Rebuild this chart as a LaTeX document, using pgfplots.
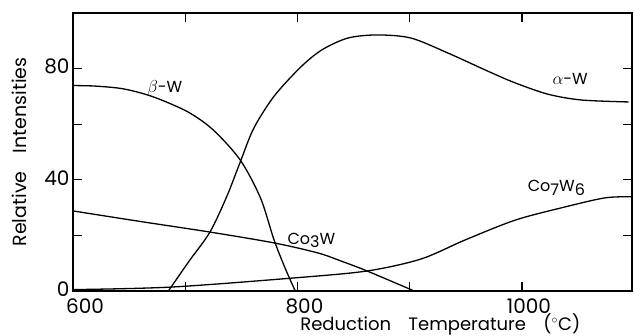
\documentclass[border=0pt]{standalone}
\usepackage{fontspec}
\setmainfont{Poppins}
\usepackage{pgfplots}
\pgfplotsset{compat=1.18}
\begin{document}
\begin{tikzpicture}
\begin{axis}[
  scale only axis,
  width=559pt, height=278pt,
  xmin=600, xmax=1098, ymin=0, ymax=100,
  axis line style={line width=1.4pt},
  tick style={line width=1.2pt, black},
  major tick length=9pt,
  tick align=inside,
  xtick={600,700,800,900,1000},
  xticklabels={\hspace*{10pt}600,,800,,1000},
  ytick={0,20,40,60,80},
  yticklabels={0,,40,,80},
  /pgf/number format/assume math mode=true,
  tick label style={font=\fontsize{20}{20}\selectfont},
  xticklabel style={xshift=7pt, yshift=-4pt},
  yticklabel style={xshift=0pt, yshift=2pt},
  xlabel={Reduction\hspace{0.7em} Temperature\hspace{0.7em} ($^{\circ}$C)},
  xlabel style={font=\fontsize{18}{18}\selectfont, inner sep=0pt, at={(axis description cs:0.657,0)}, anchor=north, yshift=-22pt},
  ylabel={Relative\hspace{0.7em} Intensities},
  ylabel style={font=\fontsize{19}{19}\selectfont, at={(axis description cs:0,0.5)}, anchor=south, yshift=43pt},
  clip=false,
]
% beta-W
\addplot[black, line width=1.3pt, smooth] coordinates {
(600,73.9)(620,73.7)(645,72.7)(671,69.9)(702,64.5)(725,57.9)(749,47.1)(767,33.5)(779,18.5)(789,8.2)(798,0)};
% alpha-W
\addplot[black, line width=1.3pt, smooth] coordinates {
(685,0)(703,10.5)(722,21.2)(737,34)(749,46.4)(761,58.5)(779,70)(803,80.6)(822,86.8)(845,91)(871,92.1)(901,91)(934,85.6)(970,79)(993,75)(1023,70.8)(1053,68.7)(1095,68)};
% Co3W
\addplot[black, line width=1.3pt, smooth] coordinates {
(600,28.8)(660,25)(722,21.2)(779,17.3)(818,13.7)(840,10.6)(862,7.2)(904,0)};
% Co7W6
\addplot[black, line width=1.3pt, smooth] coordinates {
(600,0.5)(687,1.4)(797,4.7)(862,7.2)(910,11.5)(949,18.3)(994,25.5)(1038,30.2)(1074,33.5)(1098,33.9)};
\node[font=\fontsize{16}{16}\selectfont, anchor=base west, inner sep=0pt] at (axis cs:666,71.3) {$\beta$-W};
\node[font=\fontsize{16}{16}\selectfont, anchor=base west, inner sep=0pt] at (axis cs:1027,74.1) {$\alpha$-W};
\node[font=\fontsize{16}{16}\selectfont, anchor=base west, inner sep=0pt] at (axis cs:791,16.8) {Co\raisebox{-0.35ex}{3}W};
\node[font=\fontsize{16}{16}\selectfont, anchor=base west, inner sep=0pt] at (axis cs:1005,35.8) {Co\raisebox{-0.45ex}{7}W\raisebox{-0.45ex}{6}};
\end{axis}
\pgfresetboundingbox
\path ([shift={(-73pt,-45pt)}]current axis.south west) rectangle ([shift={(2pt,13pt)}]current axis.north east);
\end{tikzpicture}
\end{document}
